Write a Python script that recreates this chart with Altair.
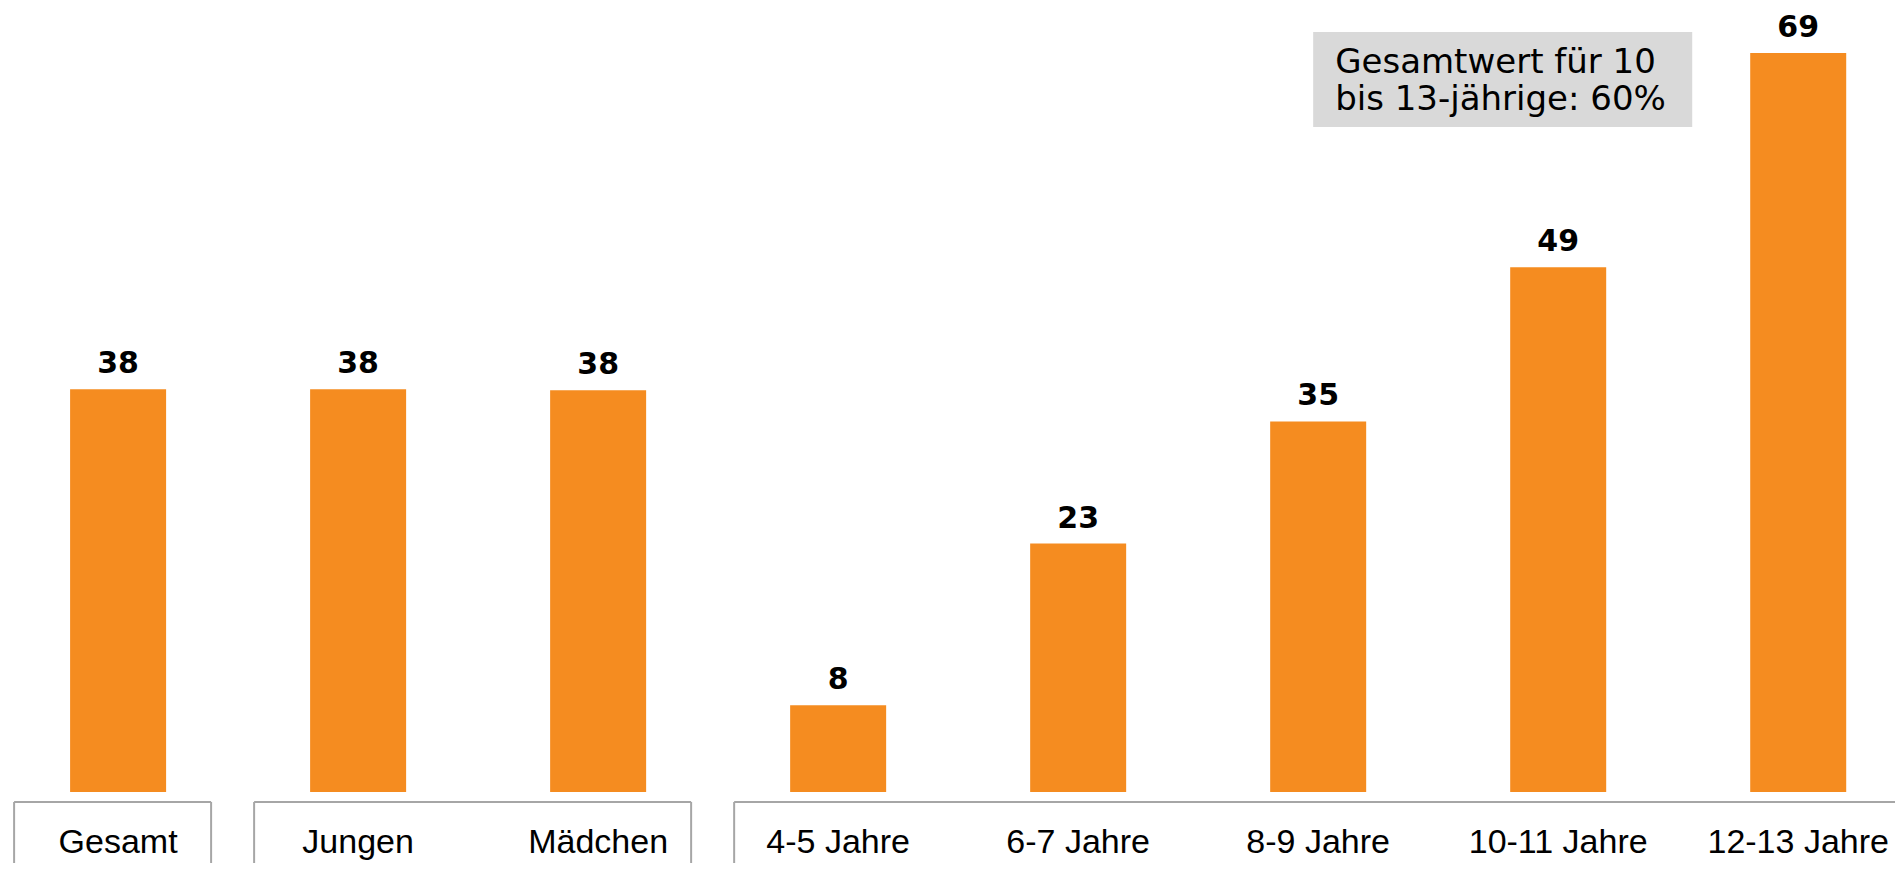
import altair as alt
import pandas as pd

# ---- data ----
categories = ["Gesamt", "Jungen", "Mädchen", "4-5 Jahre", "6-7 Jahre",
              "8-9 Jahre", "10-11 Jahre", "12-13 Jahre"]
values = [37.6, 37.6, 37.5, 8.1, 23.2, 34.6, 49.0, 69.0]

group_first = ["Gesamt", "Jungen", "4-5 Jahre"]
group_last = ["Gesamt", "Mädchen", "12-13 Jahre"]
group_closed = [True, True, False]

note_lines = ["Gesamtwert für 10", "bis 13-jährige: 60%"]
note_from = ["8-9 Jahre"]
note_to = ["12-13 Jahre"]

ORANGE = "#F58C20"
GRAY = "#A6A6A6"

df = pd.DataFrame({"cat": categories, "value": values})
groups = pd.DataFrame({"first": group_first, "last": group_last, "closed": group_closed})
note = pd.DataFrame({"start": note_from, "end": note_to})

x_scale = alt.Scale(domain=categories, paddingInner=0.6, paddingOuter=0.231, align=0.56)
y_scale = alt.Scale(domain=[0, 73.2])

bars = alt.Chart(df).mark_bar(color=ORANGE).encode(
    x=alt.X("cat:N", scale=x_scale, axis=None),
    y=alt.Y("value:Q", scale=y_scale, axis=None),
)

value_labels = alt.Chart(df).mark_text(
    dy=-16, baseline="alphabetic", font="DejaVu Sans", fontWeight="bold",
    fontSize=30, color="black"
).encode(
    x=alt.X("cat:N", scale=x_scale, axis=None),
    y=alt.Y("value:Q", scale=y_scale, axis=None),
    text=alt.Text("value:Q", format=".0f"),
)

cat_labels = alt.Chart(df).mark_text(
    baseline="alphabetic", font="Liberation Sans", fontSize=34, color="black"
).encode(
    x=alt.X("cat:N", scale=x_scale, axis=None),
    y=alt.value(845),
    text="cat:N",
)

left_edges = alt.Chart(groups).mark_rule(color=GRAY, strokeWidth=2, xOffset=-104).encode(
    x=alt.X("first:N", scale=x_scale, axis=None),
    y=alt.value(794),
    y2=alt.value(900),
)

right_edges = alt.Chart(groups).transform_filter("datum.closed").mark_rule(
    color=GRAY, strokeWidth=2, xOffset=93
).encode(
    x=alt.X("last:N", scale=x_scale, axis=None),
    y=alt.value(794),
    y2=alt.value(900),
)

top_closed = alt.Chart(groups).transform_filter("datum.closed").mark_rule(
    color=GRAY, strokeWidth=2, xOffset=-104, x2Offset=93
).encode(
    x=alt.X("first:N", scale=x_scale, axis=None),
    x2=alt.X2("last:N"),
    y=alt.value(794),
)

top_open = alt.Chart(groups).transform_filter("!datum.closed").mark_rule(
    color=GRAY, strokeWidth=2, xOffset=-104
).encode(
    x=alt.X("first:N", scale=x_scale, axis=None),
    x2=alt.value(1887),
    y=alt.value(794),
)

note_box = alt.Chart(note).mark_rect(color="#D9D9D9", xOffset=-5, x2Offset=-106).encode(
    x=alt.X("start:N", scale=x_scale, axis=None, bandPosition=0.5),
    x2=alt.X2("end:N", bandPosition=0.5),
    y=alt.value(24),
    y2=alt.value(119),
)

note_text = alt.Chart(note).mark_text(
    align="left", baseline="alphabetic", dx=17, lineHeight=37,
    font="DejaVu Sans", fontSize=34, color="black"
).encode(
    x=alt.X("start:N", scale=x_scale, axis=None),
    y=alt.value(65),
    text=alt.value(note_lines),
)

chart = alt.layer(
    bars, value_labels, cat_labels, left_edges, right_edges, top_closed, top_open,
    note_box, note_text
).properties(
    width=1887, height=784, autosize="none",
    padding={"left": 0, "top": 0, "right": 0, "bottom": 71},
).configure(
    background="white", view=alt.ViewConfig(stroke=None, strokeWidth=0)
)

chart.save("out.html", embed_options={"renderer": "svg", "actions": False})
